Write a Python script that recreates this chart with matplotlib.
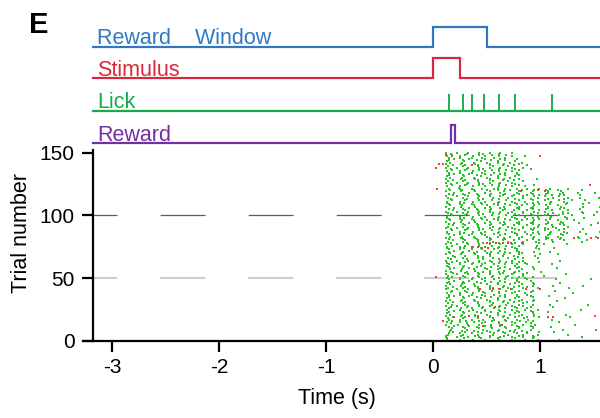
import matplotlib
matplotlib.use('Agg')
import matplotlib.pyplot as plt
import numpy as np

plt.rcParams['font.family'] = ['Liberation Sans', 'DejaVu Sans']
plt.rcParams['lines.scale_dashes'] = False

# ---------------- data ----------------
TRACE_NAMES = ['Reward    Window', 'Stimulus', 'Lick', 'Reward']
TRACE_COLORS = ['#2f78c4', '#d8283c', '#12ad4a', '#7330a3']
REWARD_WINDOW = (0.0, 0.5)          # s
STIMULUS = (0.0, 0.25)              # s
LICK_EXAMPLE = [0.153, 0.278, 0.368, 0.474, 0.618, 0.762, 1.11]
REWARD_EXAMPLE = (0.165, 0.21)

X_TICKS = [-3, -2, -1, 0, 1]
Y_TICKS = [0, 50, 100, 150]
REF_LINE_TRIALS = [100, 50]

# lick times per trial (centiseconds), trial 1 first
LICK_TIMES_CS = [
    [13, 25, 37, 49, 62, 74, 86, 98, 118],
    [13, 29, 45, 61, 77, 93],
    [12, 22, 33, 43, 53, 63, 74, 84, 94, 139],
    [12, 26, 39, 53, 66, 80, 93],
    [14, 28, 42, 56, 70, 84, 98, 126],
    [15, 25, 36, 46, 57, 67, 78, 88],
    [19, 30, 42, 53, 65, 76, 88, 99, 113],
    [16, 27, 38, 50, 61, 72, 83],
    [17, 32, 47, 62, 77, 92, 121, 152],
    [18, 30, 43, 55, 68, 80, 93],
    [15, 28, 41, 54, 67, 80, 93, 110],
    [20, 34, 49, 63, 78, 92],
    [12, 23, 33, 43, 54, 63, 74, 84, 95, 133],
    [17, 32, 46, 62, 77, 92],
    [13, 25, 38, 49, 62, 74, 87, 118],
    [18, 31, 43, 55, 68, 81, 93],
    [15, 25, 36, 47, 57, 67, 78, 89, 111],
    [14, 28, 42, 56, 70, 85],
    [19, 30, 42, 53, 65, 77, 88, 99, 128],
    [12, 26, 39, 53, 66, 80, 94],
    [16, 27, 39, 50, 61, 72, 83, 94, 124],
    [13, 29, 45, 61, 77, 93],
    [15, 28, 41, 54, 67, 80, 93, 107],
    [20, 34, 49, 63, 78, 92],
    [13, 25, 37, 49, 62, 74, 86, 98, 138],
    [15, 26, 36, 46, 57, 67, 78, 88],
    [17, 32, 47, 62, 77, 92, 112],
    [12, 22, 33, 43, 53, 63, 74, 84],
    [18, 30, 43, 55, 68, 80, 93, 109, 145],
    [14, 28, 42, 56, 70, 84],
    [19, 30, 42, 53, 65, 76, 88],
    [12, 26, 39, 53, 66, 80, 93, 116],
    [16, 27, 38, 50, 61, 72, 83, 94],
    [13, 29, 45, 61, 77, 123],
    [15, 28, 41, 54, 67, 80, 93],
    [20, 34, 49, 63, 78, 92, 108],
    [15, 25, 36, 46, 57, 67, 78, 88],
    [13, 25, 37, 49, 62, 74, 86, 131],
    [17, 32, 47, 62, 77, 92],
    [18, 30, 43, 55, 68, 80, 93, 114],
    [12, 22, 33, 43, 53, 63, 74],
    [14, 28, 42, 56, 70, 84, 98, 127],
    [19, 30, 42, 53, 65, 76, 88],
    [12, 26, 39, 53, 66, 80, 93, 112, 140],
    [16, 27, 38, 50, 61, 72, 83, 94],
    [13, 29, 45, 61, 77, 93, 119],
    [15, 28, 41, 54, 67, 80],
    [20, 34, 49, 63, 78, 92],
    [15, 25, 36, 46, 57, 67, 78, 88, 115, 148],
    [13, 25, 37, 49, 62, 74, 86],
    [18, 30, 43, 55, 68, 80, 93],
    [14, 28, 42, 56, 70, 84, 104],
    [12, 22, 33, 43, 53, 63, 74, 84, 124],
    [19, 30, 42, 53, 65, 76, 88],
    [17, 32, 47, 62, 77, 101],
    [12, 26, 39, 53, 66, 80],
    [16, 27, 38, 50, 61, 72, 83, 94],
    [20, 34, 49, 63, 78, 116],
    [15, 28, 41, 54, 67, 80, 93],
    [13, 29, 45, 61, 77],
    [15, 25, 36, 46, 57, 67, 78, 88, 111],
    [13, 25, 37, 49, 62, 74, 86],
    [18, 30, 43, 55, 68, 80, 99],
    [12, 22, 33, 43, 53, 63, 74, 84, 119],
    [17, 32, 47, 62, 77],
    [14, 28, 42, 56, 70, 84, 98],
    [21, 47, 79],
    [19, 30, 42, 53, 65, 76, 95],
    [12, 26, 39, 53, 66, 80, 100, 117],
    [16, 27, 38, 50, 61, 72, 83],
    [15, 28, 41, 54, 67, 80, 94, 109],
    [20, 34, 49, 63, 78],
    [15, 25, 36, 46, 57, 67, 78, 99],
    [13, 29, 45, 61, 77, 96, 113],
    [13, 25, 37, 49, 62, 74],
    [18, 30, 43, 55, 68, 80, 97],
    [12, 22, 33, 43, 53, 63, 74, 84, 104, 125],
    [17, 32, 47, 62, 77, 99],
    [14, 28, 42, 56, 70, 84, 96, 112, 139],
    [19, 30, 42, 53, 65, 76, 88, 99, 111, 122, 144],
    [15, 28, 41, 54, 67, 80, 93, 106, 119],
    [12, 26, 39, 53, 66, 80, 93, 107, 120, 136],
    [16, 27, 38, 50, 61, 72, 83, 94, 106, 117, 135, 152],
    [20, 34, 49, 63, 78, 92, 107, 121],
    [15, 25, 36, 46, 57, 67, 78, 88, 99, 109, 120, 143],
    [13, 29, 45, 61, 77, 93, 109, 125],
    [13, 25, 37, 49, 62, 74, 86, 98, 110, 122, 137, 156],
    [18, 30, 43, 55, 68, 80, 93, 105, 118],
    [17, 32, 47, 62, 77, 92, 107, 122, 140],
    [12, 22, 33, 43, 53, 63, 74, 84, 94, 105, 115],
    [14, 28, 42, 56, 70, 84, 98, 112, 126],
    [19, 30, 42, 53, 65, 76, 88, 99, 111, 122, 148],
    [15, 28, 41, 54, 67, 80, 93, 106, 119],
    [20, 34, 49, 63, 78, 92, 107, 121, 136, 154],
    [12, 26, 39, 53, 66, 80, 93, 107, 120],
    [16, 27, 38, 50, 61, 72, 83, 94, 106, 117, 132],
    [15, 25, 36, 46, 57, 67, 78, 88, 99, 109, 125],
    [13, 29, 45, 61, 77, 93, 109, 125, 141],
    [13, 25, 37, 49, 62, 74, 86, 98, 110, 123],
    [18, 30, 43, 55, 68, 80, 93, 105, 118, 130, 150],
    [17, 32, 47, 62, 77, 92, 107, 121],
    [14, 28, 42, 56, 70, 84, 98, 112, 126, 140],
    [12, 22, 33, 43, 53, 63, 74, 84, 94, 105, 121, 139, 153],
    [19, 30, 42, 53, 65, 76, 88, 99, 111, 126],
    [15, 28, 41, 54, 67, 80, 93, 106, 119, 137],
    [20, 34, 49, 63, 78, 92, 107, 122],
    [12, 26, 39, 53, 66, 80, 93, 107, 120, 140, 156],
    [16, 27, 38, 50, 61, 72, 83, 94, 106, 117],
    [15, 25, 36, 46, 57, 67, 78, 88, 99, 109, 124, 140],
    [13, 29, 45, 61, 77, 93, 109, 125, 146],
    [13, 25, 37, 49, 62, 74, 86, 98, 110, 122],
    [18, 30, 43, 55, 68, 80, 93, 105, 118, 130, 142],
    [17, 32, 47, 62, 77, 92, 107, 122],
    [14, 28, 42, 56, 70, 84, 98, 112, 126, 137, 155],
    [12, 22, 33, 43, 53, 63, 74, 84, 94, 105, 118],
    [19, 30, 42, 53, 65, 76, 88, 99, 111, 122, 137],
    [15, 28, 41, 54, 67, 80, 93, 106, 119],
    [20, 34, 49, 63, 78, 92, 107, 121, 135, 151],
    [12, 26, 39, 53, 66, 80, 93, 107, 120],
    [16, 27, 38, 50, 61, 72, 83, 94, 106, 117, 139],
    [15, 25, 36, 46, 57, 67, 78, 88, 99, 109, 126],
    [24, 61],
    [13, 25, 37, 49, 62, 74, 86],
    [18, 30, 43, 55, 68, 80, 94],
    [17, 32, 47, 62, 77],
    [12, 22, 33, 43, 53, 63, 74],
    [14, 28, 42, 56, 70, 84],
    [19, 30, 42, 53, 65, 76],
    [12, 26, 39, 53, 66, 80, 97],
    [16, 27, 38, 50, 61, 72],
    [13, 29, 45, 61, 77],
    [15, 28, 41, 54, 67, 80],
    [20, 34, 49, 63, 78],
    [15, 25, 36, 46, 57, 67, 78],
    [13, 25, 37, 49, 62, 74],
    [18, 30, 43, 55, 68, 80],
    [17, 32, 47, 62, 77, 92],
    [12, 22, 33, 43, 53, 63, 74, 84],
    [14, 28, 42, 56, 70],
    [19, 30, 42, 53, 65, 76, 88],
    [12, 26, 39, 53, 66, 80],
    [16, 27, 38, 50, 61, 72, 83],
    [13, 29, 45, 61, 77],
    [15, 28, 41, 54, 67],
    [20, 34, 49, 63, 78],
    [15, 25, 36, 46, 57, 67],
    [13, 25, 37, 49, 62, 74, 86],
    [18, 30, 43, 55, 68],
    [17, 32, 47, 62],
    [12, 22, 33, 43, 53, 63, 74],
]

# other events (red), trial number and time (s)
RED_TRIALS = [148, 147, 141, 141, 138, 140, 147, 124, 121, 120, 119, 119,
              82, 82, 82, 78, 78, 78, 78, 78, 78, 78, 75, 75, 74, 74, 51,
              41, 41, 41, 41, 41, 41, 27, 20, 20, 19, 19, 19, 20, 16, 12, 13]
RED_TIMES = [0.12, 0.175, 0.06, 0.09, 0.03, 0.36, 1.0, 1.47, 0.04, 0.98, 0.82, 1.05,
             1.32, 1.48, 1.54, 0.50, 0.53, 0.59, 0.65, 0.70, 0.73, 0.83, 0.36, 0.42,
             0.46, 0.51, 0.03, 0.44, 0.56, 0.62, 0.73, 0.87, 1.0, 0.58, 0.34, 0.42,
             0.20, 1.07, 1.12, 1.51, 0.09, 0.47, 0.64]

# ---------------- figure ----------------
W, H = 600, 418
fig = plt.figure(figsize=(W / 100, H / 100), dpi=100)

XMIN, XMAX = -3.27, 1.56
SPINE_X = -3.18

ax = fig.add_axes([83 / W, (H - 341) / H, 517 / W, 191 / H])
ax.set_xlim(XMIN, XMAX)
ax.set_ylim(0, 152)

# reference dashed lines
ref_styles = {100: ('#5c5c5c', 0.9), 50: ('#cdcdcd', 1.5)}
for tr in REF_LINE_TRIALS:
    c, lw = ref_styles[tr]
    ax.plot([SPINE_X, XMAX], [tr, tr], color=c, lw=lw,
            linestyle=(15.1, (32.4, 31.0)), zorder=1, solid_capstyle='butt')

# raster
gx, gy = [], []
for i, row in enumerate(LICK_TIMES_CS):
    for t in row:
        gx.append(t / 100.0)
        gy.append(i + 1)
ax.scatter(gx, gy, s=3.6, marker='s', color='#26c426', linewidths=0, zorder=2)
ax.scatter(RED_TIMES, RED_TRIALS, s=3.6, marker='s', color='#f23a44', linewidths=0, zorder=3)

for s in ['top', 'right']:
    ax.spines[s].set_visible(False)
ax.spines['left'].set_position(('data', SPINE_X))
ax.spines['left'].set_bounds(0, 152)
for s in ['left', 'bottom']:
    ax.spines[s].set_linewidth(1.6)
ax.set_xticks(X_TICKS)
ax.set_xticklabels([str(v) for v in X_TICKS])
ax.set_yticks(Y_TICKS)
ax.tick_params(axis='both', length=8, width=1.6, labelsize=15, direction='out')
ax.tick_params(axis='x', pad=4)
ax.tick_params(axis='y', pad=5)
ax.set_xlabel('Time (s)', fontsize=15.5)
ax.set_ylabel('Trial number', fontsize=15.5)
ax.xaxis.set_label_coords((336.7 - 83) / 517, (341 - 388) / 191)
ax.yaxis.set_label_coords((32 - 83) / 517, (341 - 233) / 191)

# ---------------- event traces ----------------
axt = fig.add_axes([83 / W, (H - 150) / H, 517 / W, 150 / H])
axt.set_xlim(XMIN, XMAX)
axt.set_ylim(150, 0)
axt.axis('off')

BASE = [46.7, 78.3, 111.0, 143.3]
TOP = [26.7, 58.3, 94.3, 125.0]
LW = 1.6

def pulse(a, b, base, top):
    return [SPINE_X, a, a, b, b, XMAX], [base, base, top, top, base, base]

x, y = pulse(REWARD_WINDOW[0], REWARD_WINDOW[1], BASE[0], TOP[0])
axt.plot(x, y, color=TRACE_COLORS[0], lw=LW, solid_joinstyle='miter')
x, y = pulse(STIMULUS[0], STIMULUS[1], BASE[1], TOP[1])
axt.plot(x, y, color=TRACE_COLORS[1], lw=LW, solid_joinstyle='miter')
axt.plot([SPINE_X, XMAX], [BASE[2], BASE[2]], color=TRACE_COLORS[2], lw=LW)
axt.vlines(LICK_EXAMPLE, BASE[2], TOP[2], color=TRACE_COLORS[2], lw=LW * 0.85)
x, y = pulse(REWARD_EXAMPLE[0], REWARD_EXAMPLE[1], BASE[3], TOP[3])
axt.plot(x, y, color=TRACE_COLORS[3], lw=LW, solid_joinstyle='miter')

for name, col, b in zip(TRACE_NAMES, TRACE_COLORS, BASE):
    axt.text(-3.137, b - 2.5, name, color=col, fontsize=15.5, va='baseline', ha='left')

fig.text(29 / W, 1 - 33 / H, 'E', fontsize=21, fontweight='bold', va='baseline', ha='left')

fig.savefig('out.png', dpi=100)
